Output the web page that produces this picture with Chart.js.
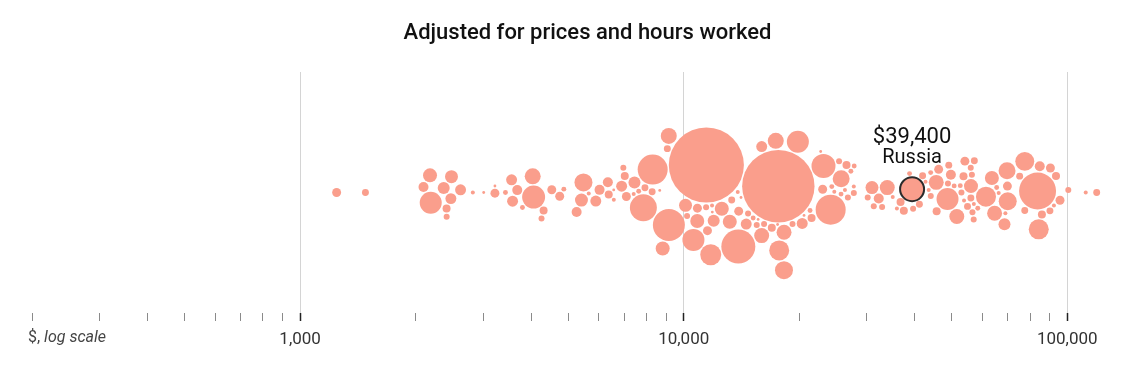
<!DOCTYPE html>
<html>
<head>
<meta charset="utf-8">
<title>Adjusted for prices and hours worked</title>
<script src="https://cdn.jsdelivr.net/npm/chart.js@4.4.1/dist/chart.umd.min.js"></script>
<style>
  html, body { margin: 0; padding: 0; background: #fff; }
  #wrap { width: 1133px; height: 369px; position: relative; }
</style>
</head>
<body>
<div id="wrap"><canvas id="swarm"></canvas></div>
<script>
// income per person, $ (log scale) and population, millions (bubble area)
const incomes = [
  1245, 1480, 2100, 2190, 2410, 2480, 2410, 2620, 2180, 2370, 2470, 2820, 3010, 3220, 3220,
  3580, 3560, 3430, 3690, 4060, 4260, 3800, 4040, 4310, 4530, 4750, 4870, 5480, 5260, 5540,
  5420, 5900, 6040, 6340, 6570, 6570, 6370, 6890, 7020, 7320, 7360, 7590, 7870, 7910, 8300,
  8150, 8820, 6960, 7320, 9140, 9820, 8660, 9140, 9650, 11480, 10300, 11010, 10810, 11900, 10620,
  10810, 11480, 11970, 12410, 13340, 12720, 13830, 13910, 14160, 13180, 12410, 13910, 14600, 15220, 15980,
  17380, 18230, 19830, 18230, 21310, 20570, 21050, 22760, 24610, 23170, 17580, 23030, 24450, 25360, 25500,
  26770, 27760, 26610, 27760, 27760, 26920, 24170, 26130, 25680, 19830, 19360, 18010, 16660, 16820, 16070,
  16070, 15690, 17800, 15600, 31100, 33820, 30180, 32250, 31300, 32900, 35070, 37470, 39780, 42000, 36000,
  36800, 38800, 41000, 43540, 44060, 44060, 43540, 45670, 45670, 46200, 48800, 49100, 48000, 49700, 50500,
  51500, 52100, 54400, 55000, 55000, 54400, 57000, 56700, 56700, 53800, 56100, 57000, 53500, 56100, 58100,
  56100, 63900, 68300, 61300, 69500, 66400, 65000, 68500, 64700, 69800, 69800, 81800, 87900, 89600, 83800,
  75200, 86100, 90400, 89200, 95000, 78900, 77500, 84300, 100600, 111700, 119300
];
const populations = [
  20, 12, 25, 121, 16, 42, 9, 30, 49, 36, 30, 4, 2, 2, 20,
  30, 30, 6, 25, 132, 9, 6, 64, 16, 20, 20, 6, 81, 25, 4,
  42, 30, 25, 25, 4, 2, 16, 30, 16, 20, 6, 36, 182, 12, 225,
  12, 49, 9, 4, 64, 9, 2, 256, 12, 1410, 42, 9, 20, 110, 121,
  49, 20, 36, 49, 12, 4, 4, 289, 2, 49, 2, 20, 30, 9, 30,
  64, 81, 121, 2, 16, 2, 6, 2, 6, 144, 1310, 20, 4, 9, 6,
  9, 9, 16, 6, 4, 6, 225, 4, 72, 30, 9, 56, 16, 9, 9,
  6, 56, 100, 2, 42, 56, 9, 25, 9, 9, 4, 16, 9, 12, 4,
  16, 6, 12, 4, 9, 6, 4, 16, 56, 20, 121, 12, 9, 25, 6,
  56, 9, 20, 12, 9, 16, 9, 9, 12, 4, 9, 4, 6, 12, 6,
  49, 49, 4, 100, 72, 4, 6, 36, 56, 20, 81, 25, 20, 4, 342,
  12, 16, 16, 12, 20, 90, 12, 100, 9, 4, 12
];
const highlightName = 'Russia';
const highlightIncome = 39400;
const highlightPopulation = 144;

const tickValues = [
  200, 300, 400, 500, 600, 700, 800, 900,
  1000, 2000, 3000, 4000, 5000, 6000, 7000, 8000, 9000,
  10000, 20000, 30000, 40000, 50000, 60000, 70000, 80000, 90000,
  100000
];
const labelledTicks = [1000, 10000, 100000];
const chartTitle = 'Adjusted for prices and hours worked';
const axisNote = '$, log scale';

const salmon = 'rgb(250,158,140)';
const isMajor = v => labelledTicks.includes(v);

// resolve overlaps between two circles, the bigger one moves less
function collide(nodes, gap) {
  for (let i = 0; i < nodes.length; i++) {
    const a = nodes[i];
    for (let j = i + 1; j < nodes.length; j++) {
      const b = nodes[j];
      let dx = b.x - a.x, dy = b.y - a.y;
      const min = a.r + b.r + gap;
      if (Math.abs(dx) >= min || Math.abs(dy) >= min) continue;
      let d = Math.hypot(dx, dy);
      if (d >= min) continue;
      if (d < 1e-6) { dx = 0; dy = (j % 2 ? 1 : -1) * 1e-3; d = 1e-3; }
      const push = (min - d) / d;
      const wa = (b.r * b.r) / (a.r * a.r + b.r * b.r), wb = 1 - wa;
      a.x -= dx * push * wa; a.y -= dy * push * wa;
      b.x += dx * push * wb; b.y += dy * push * wb;
    }
  }
}

function packSwarm(chart) {
  const xs = chart.scales.x, ys = chart.scales.y;
  const cy = ys.getPixelForValue(0);
  const values = incomes.concat([highlightIncome]);
  const pops = populations.concat([highlightPopulation]);
  const nodes = values.map((v, i) => {
    const tx = xs.getPixelForValue(v);
    return { tx, x: tx, y: cy + ((i * 7) % 11 - 5) * 0.8, r: Math.sqrt(pops[i]) };
  });
  const gap = 1.3, steps = 320;
  for (let k = 0; k < steps; k++) {
    const a = Math.pow(1 - k / steps, 1.3);
    nodes.forEach(n => {
      n.x += (n.tx - n.x) * 0.22;
      n.y += (cy - n.y) * 0.05 * a;
    });
    collide(nodes, gap);
    collide(nodes, gap);
  }
  for (let p = 0; p < 25; p++) collide(nodes, gap);

  const main = chart.data.datasets[0].data;
  nodes.forEach((n, i) => {
    const pt = i < incomes.length ? main[i] : chart.data.datasets[1].data[0];
    pt.x = xs.getValueForPixel(n.x);
    pt.y = ys.getValueForPixel(n.y);
  });
  chart.update('none');
}

const labelsPlugin = {
  id: 'labels',
  afterDatasetsDraw(chart) {
    const ctx = chart.ctx;
    const el = chart.getDatasetMeta(1).data[0];
    if (!el) return;
    const r = Math.sqrt(highlightPopulation);
    ctx.save();
    ctx.fillStyle = '#111';
    ctx.textAlign = 'center';
    ctx.textBaseline = 'middle';
    ctx.font = '400 22px Roboto';
    ctx.fillText('$' + highlightIncome.toLocaleString('en-US'), el.x, el.y - r - 40);
    ctx.font = '400 20px Roboto';
    ctx.fillText(highlightName, el.x, el.y - r - 19);
    ctx.restore();
  },
  afterDraw(chart) {
    const ctx = chart.ctx;
    const area = chart.chartArea;
    ctx.save();
    // title, set a little right of the canvas centre as in the original
    ctx.fillStyle = '#111';
    ctx.textAlign = 'center';
    ctx.textBaseline = 'middle';
    ctx.font = '500 22px Roboto';
    ctx.fillText(chartTitle, chart.width / 2 + 21, 33);
    // axis note under the left end of the axis
    const y = area.bottom + 25;
    const x0 = area.left - 4;
    ctx.fillStyle = '#444';
    ctx.textAlign = 'left';
    ctx.font = '400 16px Roboto';
    const head = '$, ';
    ctx.fillText(head, x0, y);
    const w = ctx.measureText(head).width;
    ctx.font = 'italic 400 16px Roboto';
    ctx.fillText(axisNote.slice(head.length), x0 + w, y);
    ctx.restore();
  }
};

const chart = new Chart(document.getElementById('swarm'), {
  type: 'bubble',
  data: {
    datasets: [
      {
        data: incomes.map((v, i) => ({ x: v, y: 0, r: Math.sqrt(populations[i]) })),
        backgroundColor: salmon,
        borderWidth: 0
      },
      {
        data: [{ x: highlightIncome, y: 0, r: Math.sqrt(highlightPopulation) }],
        backgroundColor: salmon,
        borderColor: '#2b2b2b',
        borderWidth: 2
      }
    ]
  },
  options: {
    responsive: true,
    maintainAspectRatio: false,
    animation: false,
    events: [],
    layout: { autoPadding: false, padding: { left: 32, right: 22, top: 72, bottom: 0 } },
    plugins: {
      legend: { display: false },
      tooltip: { enabled: false },
      title: { display: false }
    },
    scales: {
      x: {
        type: 'logarithmic',
        min: 200,
        max: 130000,
        afterBuildTicks: s => { s.ticks = tickValues.map(v => ({ value: v })); },
        afterFit: s => {
          s.height = 56;
          s.paddingLeft = 0;
          s.paddingRight = 0;
        },
        border: { display: false },
        grid: {
          color: c => (c.tick && isMajor(c.tick.value)) ? '#d4d4d4' : 'rgba(0,0,0,0)',
          tickColor: c => (c.tick && isMajor(c.tick.value)) ? '#222' : '#8a8a8a',
          tickWidth: c => (c.tick && isMajor(c.tick.value)) ? 1.5 : 1,
          tickLength: 8,
          lineWidth: 1
        },
        ticks: {
          autoSkip: false,
          maxRotation: 0,
          padding: 9,
          color: '#333',
          font: { family: 'Roboto', size: 17 },
          callback: v => isMajor(v) ? v.toLocaleString('en-US') : ''
        }
      },
      y: { display: false, min: -120, max: 120 }
    }
  },
  plugins: [labelsPlugin]
});

packSwarm(chart);
</script>
</body>
</html>
